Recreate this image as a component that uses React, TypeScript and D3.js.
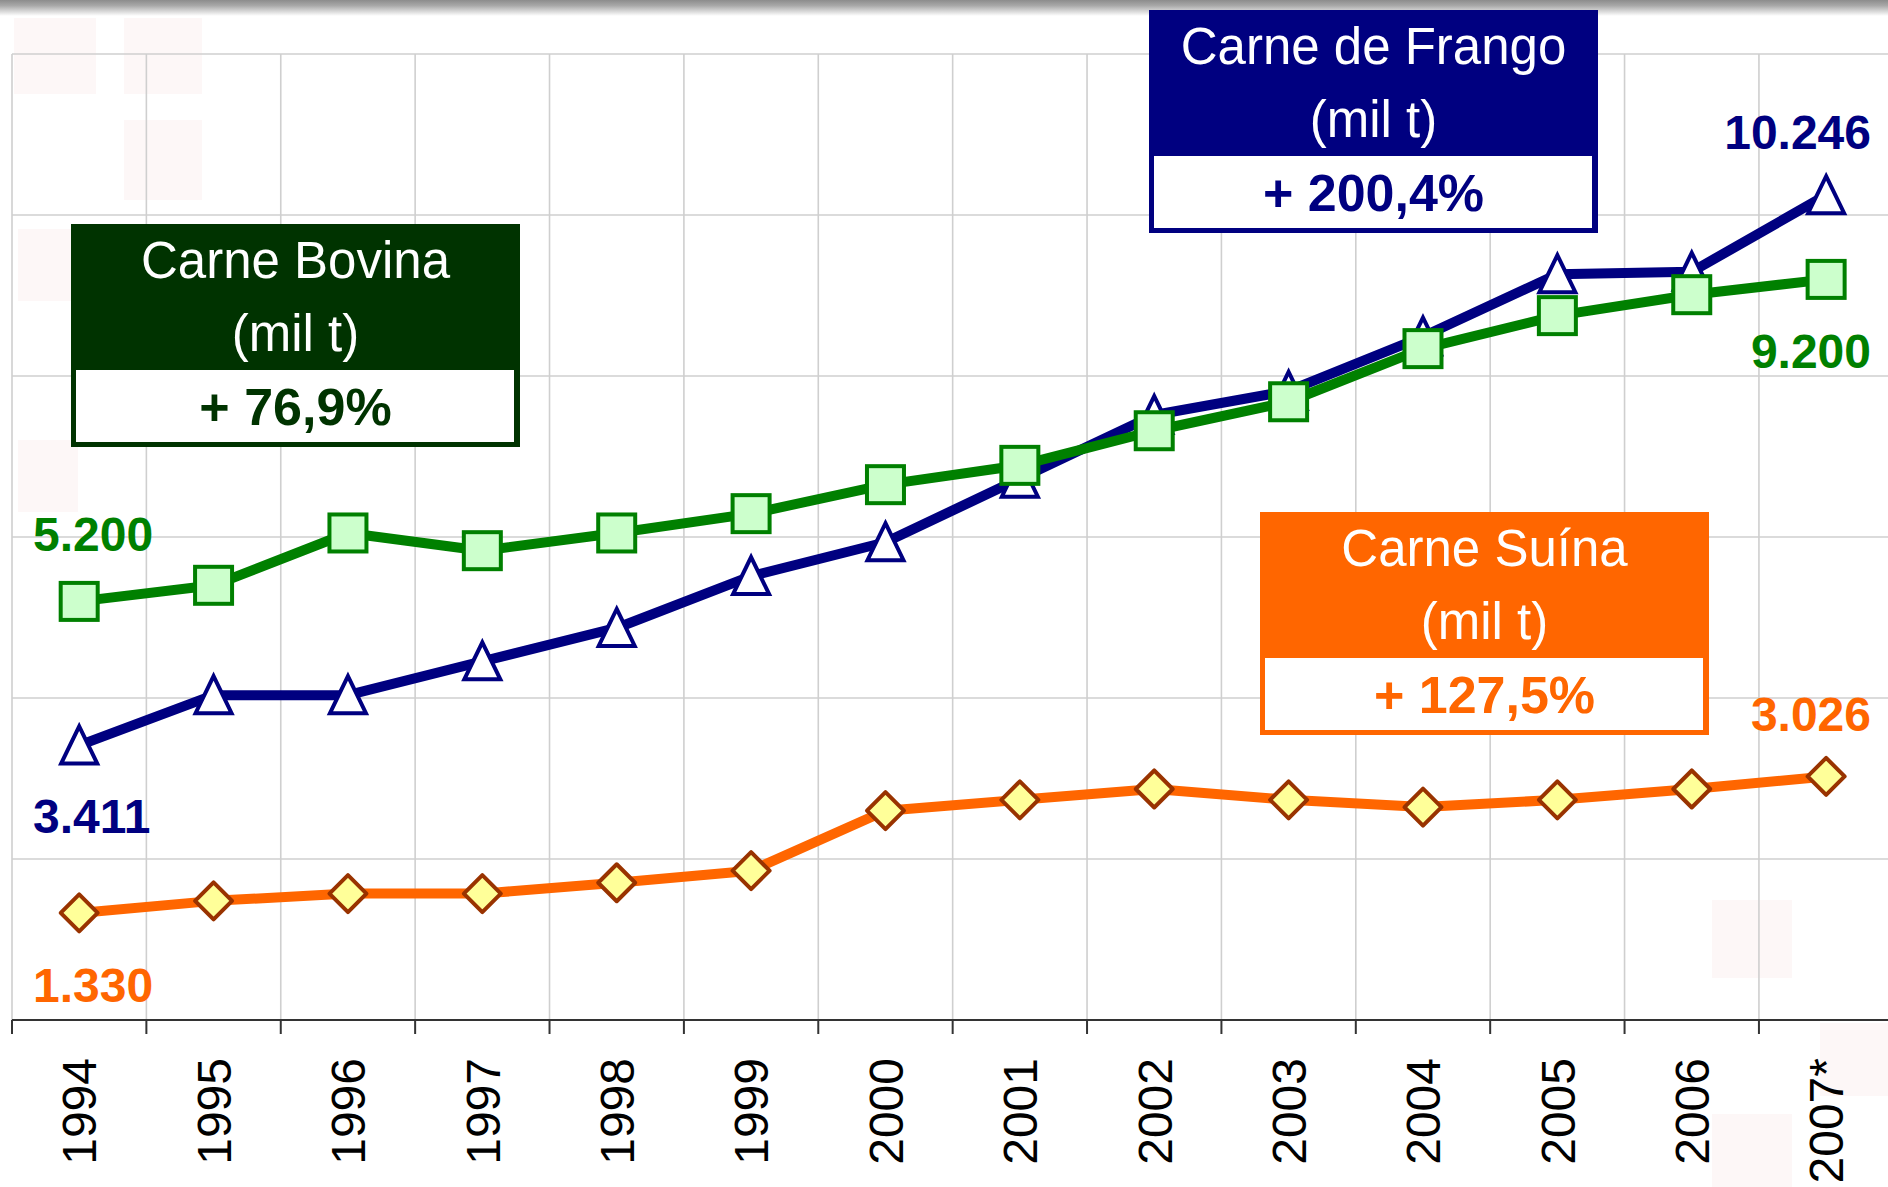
import React from "react";
import * as d3 from "d3";

const years = ["1994", "1995", "1996", "1997", "1998", "1999", "2000", "2001", "2002", "2003", "2004", "2005", "2006", "2007*"];
const bovina = [5200, 5400, 6050, 5830, 6050, 6290, 6650, 6890, 7320, 7680, 8340, 8750, 9010, 9200];
const frango = [3411, 4035, 4035, 4455, 4870, 5515, 5935, 6725, 7515, 7815, 8490, 9265, 9295, 10246];
const suina = [1330, 1480, 1570, 1570, 1705, 1855, 2600, 2735, 2870, 2735, 2645, 2735, 2870, 3026];
const yTicks = [0, 2000, 4000, 6000, 8000, 10000, 12000];
const seriesNames = ["Carne Suína", "Carne de Frango", "Carne Bovina"];
const unitLabel = "(mil t)";

const W = 1888;
const H = 1187;
const plotLeft = 12;
const step = 134.38;
const plotTop = 54;
const plotBottom = 1020;

const br = d3.formatLocale({ decimal: ",", thousands: ".", grouping: [3], currency: ["", ""] });
const fmtInt = br.format(",d");
const fmtPct = br.format(".1f");

const FONT = "'Liberation Sans', Arial, sans-serif";

export default function App() {
  const x = d3.scaleBand<string>().domain(years).range([plotLeft, plotLeft + step * years.length]).paddingInner(0).paddingOuter(0);
  const y = d3.scaleLinear().domain([0, 12000]).range([plotBottom, plotTop]);
  const cx = (i: number) => (x(years[i]) as number) + x.bandwidth() / 2;
  const line = d3.line<number>().x((_, i) => cx(i)).y((d) => y(d));
  const edges = years.map((yr) => x(yr) as number);

  const series = [
    { name: seriesNames[0], data: suina, color: "#FF6600", marker: "diamond", fill: "#FFFF99", mstroke: "#993300", head: "#FF6600", box: { x: 1260, y: 512 } },
    { name: seriesNames[1], data: frango, color: "#000080", marker: "triangle", fill: "#FFFFFF", mstroke: "#000080", head: "#000080", box: { x: 1149, y: 10 } },
    { name: seriesNames[2], data: bovina, color: "#008000", marker: "square", fill: "#CCFFCC", mstroke: "#008000", head: "#003300", box: { x: 71, y: 224 } },
  ];

  const marker = (type: string, px: number, py: number, fill: string, stroke: string, key: number) => {
    if (type === "square") {
      return <rect key={key} x={px - 18.5} y={py - 18.5} width={37} height={37} fill={fill} stroke={stroke} strokeWidth={4} />;
    }
    if (type === "triangle") {
      return <path key={key} d={`M${px},${py - 19} L${px + 18},${py + 18} L${px - 18},${py + 18} Z`} fill={fill} stroke={stroke} strokeWidth={4} strokeLinejoin="miter" />;
    }
    return <path key={key} d={`M${px},${py - 18.5} L${px + 18.5},${py} L${px},${py + 18.5} L${px - 18.5},${py} Z`} fill={fill} stroke={stroke} strokeWidth={4} strokeLinejoin="round" />;
  };

  const faint = [
    [14, 18, 82, 76], [124, 18, 78, 76], [124, 120, 78, 80], [18, 229, 60, 72], [18, 440, 60, 72],
    [1712, 900, 80, 78], [1820, 1023, 68, 73], [1712, 1114, 80, 73],
  ];

  const boxW = 449;
  const boxH = 223;
  const headH = 146;

  return (
    <svg width={W} height={H} style={{ position: "absolute", left: 0, top: 0, background: "#fff" }} fontFamily={FONT}>
      <defs>
        <linearGradient id="topShade" x1="0" y1="0" x2="0" y2="1">
          <stop offset="0" stopColor="#8c8c8c" />
          <stop offset="0.35" stopColor="#a8a8a8" />
          <stop offset="1" stopColor="#ffffff" />
        </linearGradient>
      </defs>
      <rect x={0} y={0} width={W} height={H} fill="#fff" />
      <rect x={0} y={0} width={W} height={16} fill="url(#topShade)" />
      {faint.map((r, i) => (
        <rect key={i} x={r[0]} y={r[1]} width={r[2]} height={r[3]} fill="#fdf7f7" />
      ))}

      {/* gridlines */}
      {yTicks.filter((t) => t > 0).map((t) => (
        <line key={t} x1={plotLeft} x2={W} y1={y(t)} y2={y(t)} stroke="#cfcfcf" strokeWidth={1.6} />
      ))}
      {edges.map((e, i) => (
        <line key={i} x1={e} x2={e} y1={plotTop} y2={plotBottom} stroke="#cfcfcf" strokeWidth={1.6} />
      ))}

      {/* axis */}
      <line x1={plotLeft} x2={W} y1={plotBottom} y2={plotBottom} stroke="#333" strokeWidth={2} />
      {edges.map((e, i) => (
        <line key={i} x1={e} x2={e} y1={plotBottom} y2={plotBottom + 14} stroke="#333" strokeWidth={2} />
      ))}
      {years.map((yr, i) => (
        <text key={yr} transform={`translate(${cx(i)},1058) rotate(-90)`} textAnchor="end" dy="0.36em" fontSize={48} fill="#000">
          {yr}
        </text>
      ))}

      {/* series */}
      {series.map((s, si) => (
        <g key={si}>
          <path d={line(s.data) as string} fill="none" stroke={s.color} strokeWidth={10} strokeLinejoin="round" />
          {s.data.map((v, i) => marker(s.marker, cx(i), y(v), s.fill, s.mstroke, i))}
        </g>
      ))}

      {/* end value labels */}
      {series.map((s, si) => {
        const first = s.data[0];
        const last = s.data[s.data.length - 1];
        const firstY = si === 2 ? 551 : si === 1 ? 833 : 1002;
        const lastY = si === 2 ? 368 : si === 1 ? 149 : 731;
        return (
          <g key={"lbl" + si} fontWeight="bold" fontSize={48} fill={s.color}>
            <text x={33} y={firstY}>{fmtInt(first)}</text>
            <text x={1871} y={lastY} textAnchor="end">{fmtInt(last)}</text>
          </g>
        );
      })}

      {/* annotation boxes */}
      {series.map((s, si) => {
        const bx = s.box.x;
        const by = s.box.y;
        const mid = bx + boxW / 2;
        const pct = (s.data[s.data.length - 1] / s.data[0] - 1) * 100;
        return (
          <g key={"box" + si}>
            <rect x={bx} y={by} width={boxW} height={boxH} fill={s.head} />
            <rect x={bx + 5} y={by + headH} width={boxW - 11} height={boxH - headH - 5} fill="#fff" />
            <text x={mid} y={by + 54} textAnchor="middle" fontSize={51} fill="#fff">{s.name}</text>
            <text x={mid} y={by + 127} textAnchor="middle" fontSize={51} fill="#fff">{unitLabel}</text>
            <text x={mid} y={by + 201} textAnchor="middle" fontSize={52} fontWeight="bold" fill={s.head}>{"+ " + fmtPct(pct) + "%"}</text>
          </g>
        );
      })}
    </svg>
  );
}
